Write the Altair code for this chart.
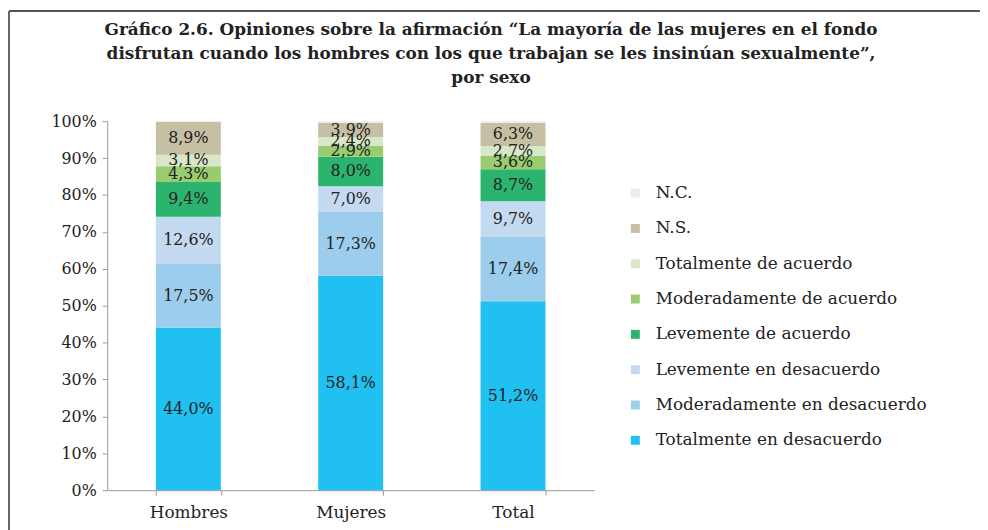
import altair as alt
import pandas as pd

grupos = ["Hombres", "Mujeres", "Total"]
categorias = [
    "Totalmente en desacuerdo",
    "Moderadamente en desacuerdo",
    "Levemente en desacuerdo",
    "Levemente de acuerdo",
    "Moderadamente de acuerdo",
    "Totalmente de acuerdo",
    "N.S.",
    "N.C.",
]
hombres = [44.0, 17.5, 12.6, 9.4, 4.3, 3.1, 8.9, 0.2]
mujeres = [58.1, 17.3, 7.0, 8.0, 2.9, 2.4, 3.9, 0.4]
total = [51.2, 17.4, 9.7, 8.7, 3.6, 2.7, 6.3, 0.4]
colores = ["#20C0F0", "#9DCDED", "#C4DAF0", "#2BB46E", "#98CC6F", "#D7E7C8", "#C5BFA3", "#EDEDE5"]
titulo = [
    "Gráfico 2.6. Opiniones sobre la afirmación “La mayoría de las mujeres en el fondo",
    "disfrutan cuando los hombres con los que trabajan se les insinúan sexualmente”,",
    "por sexo",
]

rows = []
for g, vals in zip(grupos, [hombres, mujeres, total]):
    for i, (c, v) in enumerate(zip(categorias, vals)):
        rows.append({
            "grupo": g,
            "cat": c,
            "orden": i,
            "v": v,
            "label": ("" if c == "N.C." else f"{v:.1f}".replace(".", ",") + "%"),
        })
df = pd.DataFrame(rows)

legend_order = list(reversed(categorias))
color_order = list(reversed(colores))

SERIF = "DejaVu Serif"

base = alt.Chart(df).transform_stack(
    stack="v", groupby=["grupo"], sort=[alt.SortField("orden")],
    as_=["y0", "y1"], offset="normalize"
).transform_calculate(mid="(datum.y0 + datum.y1) / 2")

x_axis = alt.Axis(labelAngle=0, tickBand="extent", labelFontSize=17,
                  labelFont=SERIF, labelColor="#222", labelPadding=10,
                  domainColor="#999", tickColor="#999", tickSize=5, title=None)
x_scale = alt.Scale(paddingInner=0.6, paddingOuter=0.3)
y_axis = alt.Axis(format=".0%", values=[i / 10 for i in range(11)],
                  labelOverlap=False, title=None,
                  labelFontSize=16, labelFont=SERIF, labelColor="#222",
                  domainColor="#999", tickColor="#999", tickSize=5,
                  grid=False, labelPadding=6)
y_scale = alt.Scale(domain=[0, 1])

bars = base.mark_bar().encode(
    x=alt.X("grupo:N", sort=grupos, title=None, scale=x_scale, axis=x_axis),
    y=alt.Y("y0:Q", scale=y_scale, title=None, axis=y_axis),
    y2="y1:Q",
    color=alt.Color("cat:N", scale=alt.Scale(domain=legend_order, range=color_order),
                    legend=alt.Legend(title=None, orient="none", legendX=524, legendY=64,
                                      symbolType="square", symbolSize=81,
                                      symbolStrokeWidth=0,
                                      labelFont=SERIF, labelFontSize=17,
                                      labelColor="#222", rowPadding=17.6,
                                      labelOffset=12, padding=0,
                                      labelLimit=400)),
    order=alt.Order("orden:Q"),
)

texts = base.transform_filter("datum.label != ''").mark_text(
    font=SERIF, fontSize=16, color="#222"
).encode(
    x=alt.X("grupo:N", sort=grupos, title=None, scale=x_scale, axis=x_axis),
    y=alt.Y("mid:Q", scale=y_scale, title=None, axis=y_axis),
    text="label:N",
)

title_layers = []
for i, line in enumerate(titulo):
    title_layers.append(
        alt.Chart(pd.DataFrame({"t": [line]})).mark_text(
            font=SERIF, fontSize=17, fontWeight="bold", color="#222",
            align="center", baseline="middle"
        ).encode(x=alt.value(387), y=alt.value(-92 + i * 24), text="t:N")
    )

frame_top = alt.Chart(df).mark_rule(color="#555", strokeWidth=2).encode(
    x=alt.value(-99), x2=alt.value(900), y=alt.value(-111)
)
frame_left = alt.Chart(df).mark_rule(color="#666", strokeWidth=2).encode(
    x=alt.value(-99), y=alt.value(-111), y2=alt.value(420)
)

chart = alt.layer(bars, texts, frame_top, frame_left, *title_layers).properties(
    width=491,
    height=372,
    autosize=alt.AutoSizeParams(type="none"),
    padding={"left": 100, "top": 112, "right": 389, "bottom": 38},
).configure(background="white").configure_view(strokeWidth=0)

chart.save("out.html", embed_options={"renderer": "svg", "actions": False})
